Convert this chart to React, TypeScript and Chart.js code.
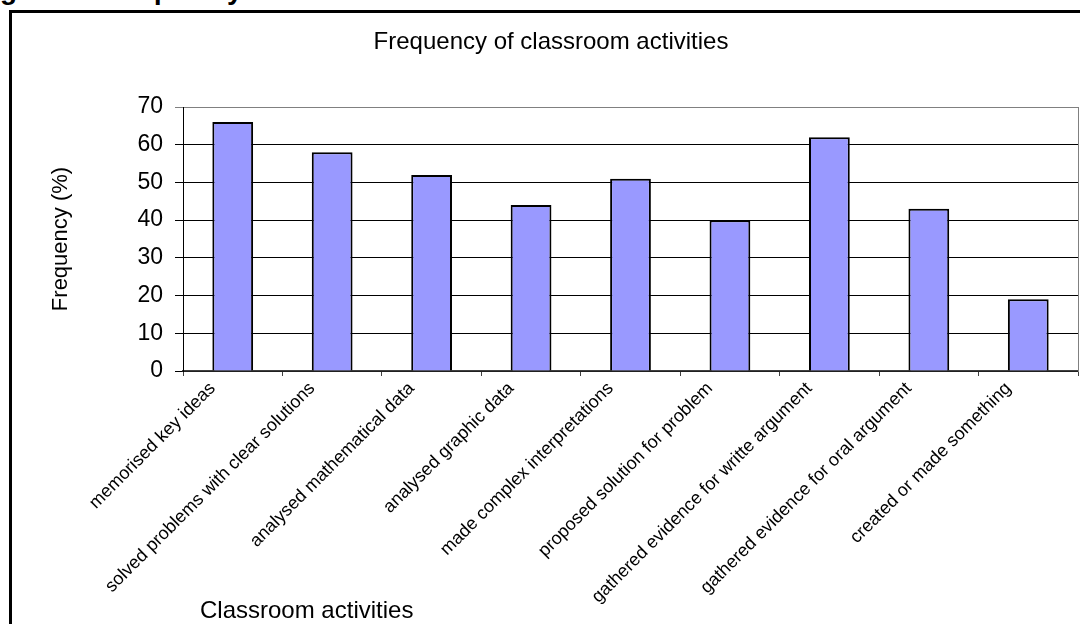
import React, { useEffect, useRef } from "react";
import { Chart, registerables } from "chart.js";

Chart.register(...registerables);

const categories: string[] = [
  "memorised key ideas",
  "solved problems with clear solutions",
  "analysed mathematical data",
  "analysed graphic data",
  "made complex interpretations",
  "proposed solution for problem",
  "gathered evidence for writte argument",
  "gathered evidence for oral argument",
  "created or made something",
];

const frequencyValues: number[] = [66, 58, 52, 44, 51, 40, 62, 43, 19];

const yTickValues: number[] = [0, 10, 20, 30, 40, 50, 60, 70];

const chartTitle = "Frequency of classroom activities";
const yAxisTitle = "Frequency (%)";
const xAxisTitle = "Classroom activities";
const headerText = "Figure 1: Frequency of classroom activities";

const FONT = "'Liberation Sans', Arial, Helvetica, sans-serif";

export default function App() {
  const canvasRef = useRef<HTMLCanvasElement | null>(null);

  useEffect(() => {
    if (!canvasRef.current) return;
    const chart = new Chart(canvasRef.current, {
      type: "bar",
      data: {
        labels: categories,
        datasets: [
          {
            label: "Frequency",
            data: frequencyValues,
            backgroundColor: "#9999FF",
            borderColor: "#000000",
            borderWidth: 2,
            barPercentage: 0.41,
            categoryPercentage: 1,
          },
        ],
      },
      options: {
        animation: false,
        responsive: true,
        maintainAspectRatio: false,
        layout: { padding: { left: 24, right: 2, top: 0, bottom: 0 } },
        plugins: {
          legend: { display: false },
          tooltip: { enabled: false },
          title: {
            display: true,
            text: chartTitle,
            color: "#000",
            font: { family: FONT, size: 24, weight: "normal" },
            padding: { top: 28, bottom: 50.2 },
          },
        },
        scales: {
          x: {
            type: "category",
            offset: true,
            grid: {
              offset: true,
              drawOnChartArea: false,
              drawTicks: true,
              tickLength: 5,
              color: "#404040",
              lineWidth: 1,
            },
            border: { color: "#404040", width: 1.5 },
            ticks: {
              autoSkip: false,
              minRotation: 45,
              maxRotation: 45,
              color: "#000",
              font: { family: FONT, size: 18 },
              padding: 2,
              labelOffset: -20,
            },
            afterFit: (s: any) => {
              s.height = 253;
            },
          },
          y: {
            min: 0,
            max: 70,
            afterBuildTicks: (s: any) => {
              s.ticks = yTickValues.map((v) => ({ value: v }));
            },
            ticks: {
              color: "#000",
              font: { family: FONT, size: 23 },
              padding: 12,
            },
            grid: {
              color: (ctx: any) =>
                ctx.tick && ctx.tick.value === 70 ? "#808080" : "#000000",
              lineWidth: 1,
              tickLength: 8,
            },
            border: { color: "#000", width: 1 },
            title: {
              display: true,
              text: yAxisTitle,
              color: "#000",
              font: { family: FONT, size: 22 },
              padding: 24,
            },
            afterFit: (s: any) => {
              s.width = 159;
            },
          },
          y2: {
            position: "right",
            min: 0,
            max: 70,
            ticks: { display: false },
            grid: { display: true, drawOnChartArea: false, drawTicks: false },
            border: { color: "#808080", width: 1 },
          },
        },
      },
    });
    return () => chart.destroy();
  }, []);

  return (
    <div
      style={{
        position: "absolute",
        left: 0,
        top: 0,
        width: 1080,
        height: 624,
        overflow: "hidden",
        background: "#fff",
        fontFamily: FONT,
      }}
    >
      <div
        style={{
          position: "absolute",
          left: 0,
          top: 0,
          width: 1080,
          height: 8,
          overflow: "hidden",
        }}
      >
        <span
          style={{
            position: "absolute",
            left: -25,
            top: -23.7,
            fontSize: 28,
            lineHeight: 1,
            fontWeight: "bold",
            whiteSpace: "nowrap",
            color: "#000",
          }}
        >
          {headerText}
        </span>
      </div>
      <div
        style={{
          position: "absolute",
          left: 9,
          top: 10,
          width: 1200,
          height: 800,
          border: "3px solid #000",
        }}
      />
      <div
        style={{
          position: "absolute",
          left: 0,
          top: 0,
          width: 1080,
          height: 624,
        }}
      >
        <canvas ref={canvasRef} />
      </div>
      <div
        style={{
          position: "absolute",
          left: 200,
          top: 597.7,
          fontSize: 24,
          lineHeight: 1,
          whiteSpace: "nowrap",
          color: "#000",
        }}
      >
        {xAxisTitle}
      </div>
    </div>
  );
}
